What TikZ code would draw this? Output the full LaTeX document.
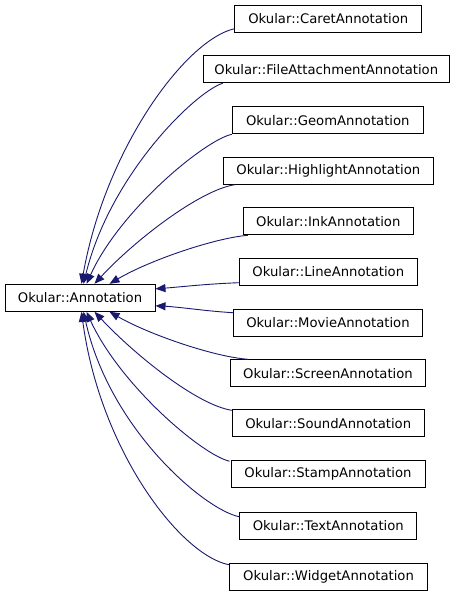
\documentclass[tikz,border=0pt]{standalone}
\usepackage{fontspec}
\setmainfont{DejaVu Sans}
\usetikzlibrary{arrows.meta,calc}
\definecolor{edgeblue}{HTML}{191970}
\begin{document}
\begin{tikzpicture}[x=1pt,y=-1pt,
  cls/.style={draw=black,line width=1pt,fill=white,minimum height=27pt,inner sep=0pt,
    font=\fontsize{13.2}{15}\selectfont},
  inh/.style={draw=edgeblue,line width=0.9pt,-{Triangle[length=10pt,width=8pt]},color=edgeblue}]
\useasboundingbox (0,0) rectangle (459,595);
\node[cls,minimum width=150pt] (ann) at (80,297.8) {Okular::Annotation};
\node[cls,minimum width=186.7pt] (caret) at (328.3,18.7) {Okular::CaretAnnotation};
\node[cls,minimum width=246pt] (file) at (326.3,69.2) {Okular::FileAttachmentAnnotation};
\node[cls,minimum width=191pt] (geom) at (327.8,120.3) {Okular::GeomAnnotation};
\node[cls,minimum width=210pt] (high) at (328.3,170.7) {Okular::HighlightAnnotation};
\node[cls,minimum width=170pt] (ink) at (328.3,221.3) {Okular::InkAnnotation};
\node[cls,minimum width=178pt] (line) at (328.3,271.7) {Okular::LineAnnotation};
\node[cls,minimum width=189.4pt] (movie) at (328,322.7) {Okular::MovieAnnotation};
\node[cls,minimum width=194.6pt] (screen) at (328,373.3) {Okular::ScreenAnnotation};
\node[cls,minimum width=191.7pt] (sound) at (328.2,423.3) {Okular::SoundAnnotation};
\node[cls,minimum width=194pt] (stamp) at (328,474.2) {Okular::StampAnnotation};
\node[cls,minimum width=176.7pt] (text) at (328.3,525.8) {Okular::TextAnnotation};
\node[cls,minimum width=198.4pt] (widget) at (328.5,576.7) {Okular::WidgetAnnotation};
% top group
\draw[inh] ($(caret.south west)+(0,-4)$) .. controls (185,40) and (105,150) .. ($(ann.north west)+(77,0)$);
\draw[inh] ($(file.south west)+(20,0)$) .. controls (195,92) and (110,175) .. ($(ann.north west)+(79,0)$);
\draw[inh] (geom.south west) .. controls (205,140) and (120,210) .. ($(ann.north west)+(82,0)$);
\draw[inh] ($(high.south west)+(12,0)$) .. controls (200,190) and (135,240) .. ($(ann.north west)+(90,0)$);
\draw[inh] ($(ink.south west)+(5,0)$) .. controls (215,238) and (150,260) .. ($(ann.north west)+(105,0)$);
% middle
\draw[inh] ($(line.south west)+(0,-3)$) .. controls (205,284) and (180,287) .. ($(ann.east)+(0,-9)$);
\draw[inh] ($(movie.north west)+(0,4)$) .. controls (205,311) and (180,307) .. ($(ann.east)+(0,8)$);
% bottom group
\draw[inh] ($(screen.north west)+(18,0)$) .. controls (215,357) and (150,335) .. ($(ann.south west)+(105,0)$);
\draw[inh] ($(sound.north west)+(0,1)$) .. controls (197,405) and (135,355) .. ($(ann.south west)+(90,0)$);
\draw[inh] ($(stamp.north west)+(-1,1)$) .. controls (202,455) and (120,385) .. ($(ann.south west)+(82,0)$);
\draw[inh] ($(text.north west)+(0,5)$) .. controls (205,510) and (110,430) .. ($(ann.south west)+(79,0)$);
\draw[inh] ($(widget.north west)+(0,2)$) .. controls (180,555) and (100,450) .. ($(ann.south west)+(77,0)$);
\end{tikzpicture}
\end{document}
